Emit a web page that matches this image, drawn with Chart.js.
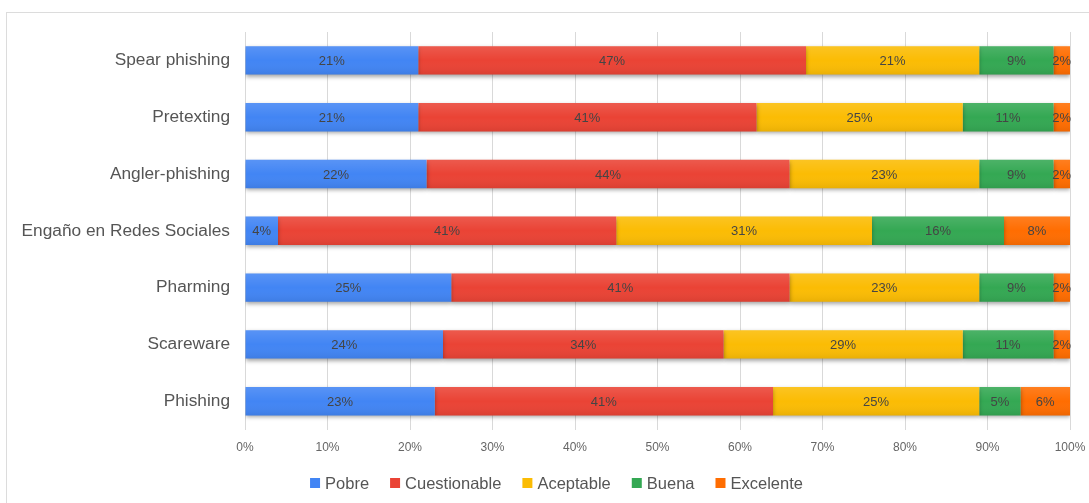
<!DOCTYPE html>
<html>
<head>
<meta charset="utf-8">
<script src="https://cdn.jsdelivr.net/npm/chart.js@4.4.1/dist/chart.umd.min.js"></script>
<style>
  html, body { margin: 0; padding: 0; background: #fff; }
  #wrap { position: relative; width: 1089px; height: 503px; overflow: hidden; }
  #frame { position: absolute; left: 6px; top: 12px; width: 1200px; height: 600px; border: 1px solid #dcdcdc; box-sizing: border-box; }
  canvas { position: absolute; left: 0; top: 0; }
</style>
</head>
<body>
<div id="wrap">
  <div id="frame"></div>
  <canvas id="c" width="1089" height="503"></canvas>
</div>
<script>
const categories = ['Spear phishing', 'Pretexting', 'Angler-phishing', 'Engaño en Redes Sociales', 'Pharming', 'Scareware', 'Phishing'];
const pobre         = [21, 21, 22, 4, 25, 24, 23];
const cuestionable  = [47, 41, 44, 41, 41, 34, 41];
const aceptable     = [21, 25, 23, 31, 23, 29, 25];
const buena         = [9, 11, 9, 16, 9, 11, 5];
const excelente     = [2, 2, 2, 8, 2, 2, 6];
const seriesNames   = ['Pobre', 'Cuestionable', 'Aceptable', 'Buena', 'Excelente'];
const seriesColors  = ['#4285f4', '#ea4335', '#fbbc04', '#34a853', '#ff6d01'];
const tickLabels    = ['0%', '10%', '20%', '30%', '40%', '50%', '60%', '70%', '80%', '90%', '100%'];

const FONT = "'Liberation Sans', Arial, sans-serif";
const seriesData = [pobre, cuestionable, aceptable, buena, excelente];

// soft drop shadow under the bars
const barShadow = {
  id: 'barShadow',
  beforeDatasetsDraw(chart) {
    const ctx = chart.ctx;
    ctx.save();
    ctx.shadowColor = 'rgba(0,0,0,0.35)';
    ctx.shadowBlur = 4;
    ctx.shadowOffsetY = 2;
  },
  afterDatasetsDraw(chart) {
    chart.ctx.restore();
  }
};

// slight vertical sheen on each segment plus value labels
const barLabels = {
  id: 'barLabels',
  afterDatasetsDraw(chart) {
    const ctx = chart.ctx;
    ctx.save();
    chart.data.datasets.forEach((ds, di) => {
      const meta = chart.getDatasetMeta(di);
      meta.data.forEach((bar) => {
        const left = Math.min(bar.x, bar.base);
        const w = Math.abs(bar.x - bar.base);
        const top = bar.y - bar.height / 2;
        const g = ctx.createLinearGradient(0, top, 0, top + bar.height);
        g.addColorStop(0, 'rgba(255,255,255,0.12)');
        g.addColorStop(0.5, 'rgba(255,255,255,0)');
        g.addColorStop(1, 'rgba(0,0,0,0.07)');
        ctx.fillStyle = g;
        ctx.fillRect(left, top, w, bar.height);
      });
    });
    ctx.font = '13px ' + FONT;
    ctx.fillStyle = '#454545';
    ctx.textAlign = 'center';
    ctx.textBaseline = 'middle';
    chart.data.datasets.forEach((ds, di) => {
      const meta = chart.getDatasetMeta(di);
      meta.data.forEach((bar, i) => {
        const cx = (bar.x + bar.base) / 2;
        ctx.fillText(ds.data[i] + '%', cx, bar.y + 1);
      });
    });
    ctx.restore();
  }
};

// centred legend row below the axis
const legendRow = {
  id: 'legendRow',
  afterDraw(chart) {
    const ctx = chart.ctx;
    const box = 10, gapText = 5, gapItem = 21, y = 483;
    ctx.save();
    ctx.font = '16.5px ' + FONT;
    const widths = seriesNames.map(n => ctx.measureText(n).width);
    let total = 0;
    widths.forEach((w, i) => { total += box + gapText + w + (i < widths.length - 1 ? gapItem : 0); });
    let x = (chart.width - total) / 2 + 12;
    ctx.textBaseline = 'middle';
    ctx.textAlign = 'left';
    seriesNames.forEach((n, i) => {
      ctx.fillStyle = seriesColors[i];
      ctx.fillRect(x, y - box / 2, box, box);
      ctx.fillStyle = '#555';
      ctx.fillText(n, x + box + gapText, y + 1);
      x += box + gapText + widths[i] + gapItem;
    });
    ctx.restore();
  }
};

new Chart(document.getElementById('c'), {
  type: 'bar',
  data: {
    labels: categories,
    datasets: seriesNames.map((name, k) => ({
      label: name,
      data: seriesData[k],
      backgroundColor: seriesColors[k],
      borderWidth: 0,
      barPercentage: 0.5,
      categoryPercentage: 1.0
    }))
  },
  options: {
    indexAxis: 'y',
    responsive: false,
    animation: false,
    devicePixelRatio: 1,
    layout: { padding: { top: 32, right: 19, left: 0, bottom: 37 } },
    plugins: {
      legend: { display: false },
      tooltip: { enabled: false }
    },
    scales: {
      x: {
        stacked: true,
        min: 0,
        max: 100,
        ticks: {
          stepSize: 10,
          font: { family: FONT, size: 12 },
          color: '#666',
          padding: 11,
          callback: (v, i) => tickLabels[i]
        },
        grid: { color: '#d9d9d9', drawTicks: false },
        border: { display: false },
        afterFit(scale) { scale.paddingLeft = 0; scale.paddingRight = 0; }
      },
      y: {
        stacked: true,
        ticks: {
          font: { family: FONT, size: 17.3 },
          color: '#555',
          padding: 15
        },
        grid: { display: false, drawTicks: false },
        border: { color: '#d9d9d9' },
        afterFit(scale) { scale.width = 245; }
      }
    }
  },
  plugins: [barShadow, barLabels, legendRow]
});
</script>
</body>
</html>
